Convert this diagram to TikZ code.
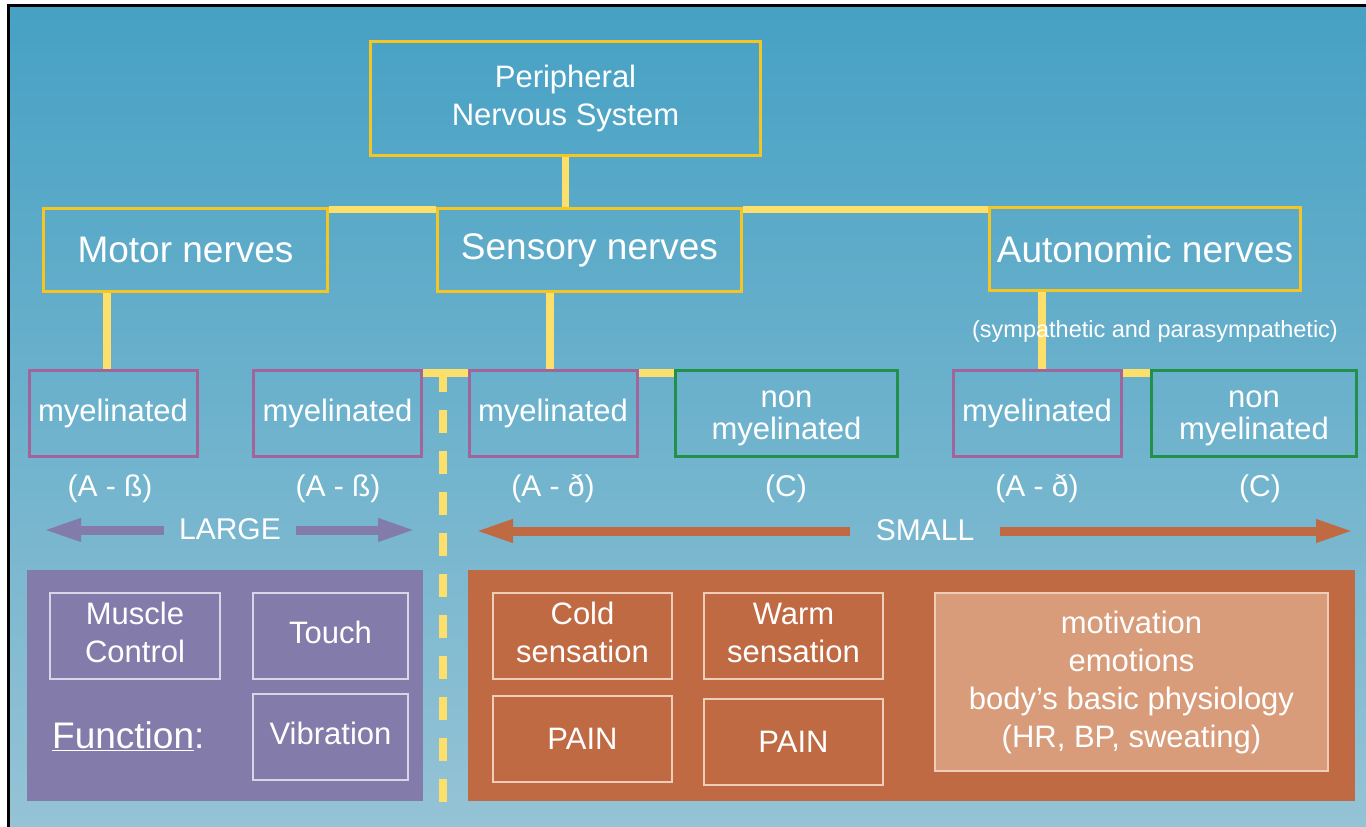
\documentclass[tikz,border=0pt]{standalone}
\usepackage{fontspec}
\setmainfont{Liberation Sans}
\usetikzlibrary{arrows.meta}
\definecolor{bgtop}{HTML}{46A1C4}
\definecolor{bgbot}{HTML}{95C3D5}
\definecolor{boxyel}{HTML}{F5C621}
\definecolor{connyel}{HTML}{FDE06B}
\definecolor{myel}{HTML}{A1659B}
\definecolor{nonmyel}{HTML}{229049}
\definecolor{lgpurple}{HTML}{837BAA}
\definecolor{smorange}{HTML}{C06A44}
\definecolor{lightorange}{HTML}{D89C7B}
\definecolor{pborder}{HTML}{D9D5E6}
\definecolor{oborder}{HTML}{F0CDB8}
\newcommand{\vshiftbox}[2]{\raisebox{#1}[\height][\depth]{\begin{tabular}{@{}c@{}}#2\end{tabular}}}
\pgfdeclarelayer{bg}
\pgfsetlayers{bg,main}
\begin{document}
\begin{tikzpicture}[x=1pt,y=-1pt,
  yb/.style={draw=boxyel,line width=3.3pt,inner sep=0pt,text=white,font=\fontsize{37}{44}\selectfont},
  mb/.style={draw=myel,line width=3pt,inner sep=0pt,text=white,align=center,font=\fontsize{31}{32}\selectfont,minimum width=168pt,minimum height=86pt},
  nb/.style={mb,draw=nonmyel},
  conn/.style={draw=connyel,line width=7.5pt},
  dashline/.style={draw=connyel,line width=8pt,dash pattern=on 23pt off 18pt},
  lbl/.style={text=white,font=\fontsize{30}{36}\selectfont,inner sep=0pt},
  larrow/.style={draw=lgpurple,line width=9pt,-{Triangle[length=38pt,width=21pt]}},
  sarrow/.style={draw=smorange,line width=9pt,-{Triangle[length=38pt,width=21pt]}},
  panel/.style={inner sep=0pt,minimum height=231pt},
  fbox/.style={draw=#1,line width=2pt,inner sep=0pt,text=white,align=center,font=\fontsize{31}{38}\selectfont,minimum height=86pt}
]
\useasboundingbox (0,0) rectangle (1366,827);
\begin{pgfonlayer}{bg}
  \fill[white] (0,0) rectangle (1366,827);
  \shade[top color=bgtop,bottom color=bgbot] (9,6) rectangle (1366,827);
  \fill[black] (7,4) rectangle (1366,7);
  \fill[black] (7,4) rectangle (10,827);
\end{pgfonlayer}

% level 1 and 2
\node[yb,minimum width=390pt,minimum height=114pt,align=center,font=\fontsize{31}{38}\selectfont] (pns) at (565.5,98.5) {Peripheral\\Nervous System};
\node[yb,minimum width=284pt,minimum height=83pt] (motor) at (185.5,250) {Motor nerves};
\node[yb,minimum width=304pt,minimum height=83pt] (sensory) at (589.5,250) {Sensory nerves};
\node[yb,minimum width=311pt,minimum height=83pt] (auto) at (1145,249) {Autonomic nerves};

% level 3
\node[mb] (m1) at (113,413) {myelinated};
\node[mb] (m2) at (337.5,413) {myelinated};
\node[mb] (m3) at (553,413) {myelinated};
\node[nb,minimum width=222pt] (n1) at (786.5,413) {\vshiftbox{-4pt}{non\\myelinated}};
\node[mb] (m4) at (1037,413) {myelinated};
\node[nb,minimum width=205pt] (n2) at (1254,413) {\vshiftbox{-4pt}{non\\myelinated}};

\coordinate (hbar) at (0,209.5);
\coordinate (tbar) at (0,373);
\coordinate (v1) at (107,0);
\coordinate (v3) at (550,0);
\coordinate (v4) at (1042,0);
\coordinate (dtop) at (443,369);
\coordinate (dbot) at (443,802);

\begin{pgfonlayer}{bg}
  \draw[conn] (pns.south) -- (pns.south |- hbar);
  \draw[conn] (motor.east |- hbar) -- (sensory.west |- hbar);
  \draw[conn] (sensory.east |- hbar) -- (auto.west |- hbar);
  \draw[conn] (motor.south -| v1) -- (m1.north -| v1);
  \draw[conn] (sensory.south -| v3) -- (m3.north -| v3);
  \draw[conn] (auto.south -| v4) -- (m4.north -| v4);
  \draw[conn] (m2.east |- tbar) -- (m3.west |- tbar);
  \draw[conn] (m3.east |- tbar) -- (n1.west |- tbar);
  \draw[conn] (m4.east |- tbar) -- (n2.west |- tbar);
  \draw[dashline] (dtop) -- (dbot);
\end{pgfonlayer}

\node[lbl,font=\fontsize{23.5}{28}\selectfont] (symp) at (1155,331) {(sympathetic and parasympathetic)};

% fibre labels
\node[lbl] (l1) at (110,489) {(A - ß)};
\node[lbl] (l2) at (338,489) {(A - ß)};
\node[lbl] (l3) at (553,489) {(A - ð)};
\node[lbl] (l4) at (786,489) {(C)};
\node[lbl] (l5) at (1037,489) {(A - ð)};
\node[lbl] (l6) at (1260,489) {(C)};

% size arrows
\node[lbl,inner xsep=15pt] (large) at (230,529) {LARGE};
\coordinate (largeL) at (43,530);
\coordinate (largeR) at (416,530);
\draw[larrow] (large.west |- largeL) -- (largeL);
\draw[larrow] (large.east |- largeR) -- (largeR);
\node[lbl,inner xsep=26pt] (small) at (925,530) {SMALL};
\coordinate (smallL) at (475,531);
\coordinate (smallR) at (1354,531);
\draw[sarrow] (small.west |- smallL) -- (smallL);
\draw[sarrow] (small.east |- smallR) -- (smallR);

% bottom panels
\node[panel,fill=lgpurple,minimum width=396pt] (lpanel) at (225,685.5) {};
\node[panel,fill=smorange,minimum width=887pt] (rpanel) at (911.5,685.5) {};

\node[fbox=pborder,minimum width=170pt] (muscle) at (135,636) {\vshiftbox{0pt}{Muscle\\Control}};
\node[fbox=pborder,minimum width=155pt] (touch) at (330.5,636) {\vshiftbox{0pt}{Touch}};
\node[fbox=pborder,minimum width=155pt] (vib) at (330.5,737) {\vshiftbox{0pt}{Vibration}};
\node[anchor=base west,inner sep=0pt,text=white,font=\fontsize{37}{44}\selectfont] (func) at (52,748) {\underline{Function}:};

\node[fbox=oborder,minimum width=179pt] (cold) at (582.5,636) {\vshiftbox{0pt}{Cold\\sensation}};
\node[fbox=oborder,minimum width=179pt] (warm) at (793.5,636) {\vshiftbox{0pt}{Warm\\sensation}};
\node[fbox=oborder,minimum width=179pt] (pain1) at (582.5,739) {PAIN};
\node[fbox=oborder,minimum width=179pt] (pain2) at (793.5,742) {PAIN};
\node[fbox=oborder,fill=lightorange,minimum width=393pt,minimum height=178pt] (auto fn) at (1131.5,682) {motivation\\emotions\\body’s basic physiology\\(HR, BP, sweating)};
\end{tikzpicture}
\end{document}
